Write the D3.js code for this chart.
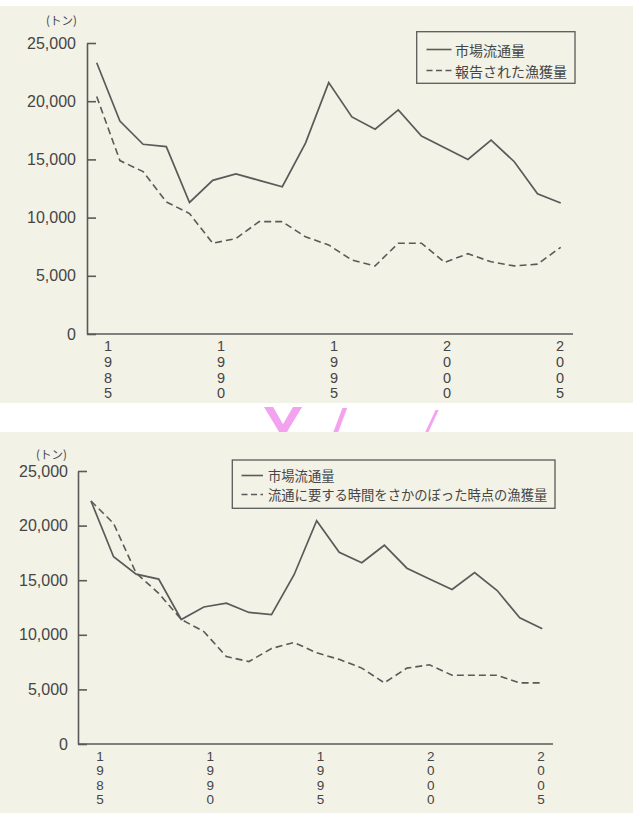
<!DOCTYPE html>
<html>
<head>
<meta charset="utf-8">
<script src="https://cdn.jsdelivr.net/npm/d3@7/dist/d3.min.js"></script>
<style>
  html, body { margin: 0; padding: 0; background: #ffffff; }
  svg { display: block; }
</style>
</head>
<body>
<svg id="chart" width="633" height="813"></svg>
<script>
// ---------- DATA ----------
const years = [1985,1986,1987,1988,1989,1990,1991,1992,1993,1994,1995,1996,1997,1998,1999,2000,2001,2002,2003,2004,2005];
const yearLabels = [1985, 1990, 1995, 2000, 2005];
const yTicks = [0, 5000, 10000, 15000, 20000, 25000];

// Chart 1
const market1   = [23300,18300,16300,16100,11300,13200,13750,13200,12650,16400,21600,18650,17600,19250,17000,16000,15000,16650,14800,12050,11250];
const reported1 = [20400,14900,13950,11350,10350,7800,8200,9650,9650,8350,7650,6350,5850,7800,7800,6150,6900,6200,5850,6000,7450];
const legend1 = ["市場流通量", "報告された漁獲量"];

// Chart 2
const market2    = [22250,17150,15550,15100,11400,12550,12900,12050,11850,15500,20450,17550,16600,18200,16100,15100,14150,15700,14050,11550,10550];
const backdated2 = [22250,20200,15650,13800,11400,10300,8000,7550,8750,9300,8350,7750,6950,5600,6950,7250,6300,6300,6300,5600,5600];
const legend2 = ["市場流通量", "流通に要する時間をさかのぼった時点の漁獲量"];

const unitLabel = "(トン)";

// ---------- STYLE ----------
const paper = "#f3f2e6";
const ink = "#5a5a5a";
const textInk = "#454545";
const numFont = "'Liberation Sans', Arial, sans-serif";
const jpFont = "'Noto Sans CJK JP', 'Noto Sans CJK SC', sans-serif";

const svg = d3.select("#chart");

// paper backgrounds
svg.append("rect").attr("x", 0).attr("y", 6).attr("width", 633).attr("height", 397).attr("fill", paper);
svg.append("rect").attr("x", 0).attr("y", 432).attr("width", 633).attr("height", 381).attr("fill", paper);

// pink marks in the white gap
const clip = svg.append("defs").append("clipPath").attr("id", "gap");
clip.append("rect").attr("x", 0).attr("y", 405).attr("width", 633).attr("height", 27);
const pink = svg.append("g").attr("clip-path", "url(#gap)").attr("fill", "#f3a2ef")
  .style("font-family", numFont);
pink.append("text").attr("x", 283).attr("y", 448).attr("text-anchor", "middle").attr("font-size", 60)
  .attr("font-weight", "bold").text("Y");
pink.append("text").attr("x", 338).attr("y", 438).attr("text-anchor", "middle").attr("font-size", 40)
  .attr("font-weight", "bold").attr("font-style", "italic").text("/");
pink.append("text").attr("x", 430).attr("y", 438).attr("text-anchor", "middle").attr("font-size", 38)
  .attr("font-style", "italic").text("/");

function drawChart(cfg) {
  const g = svg.append("g");
  const x = d3.scaleLinear().domain([1985, 2005]).range(cfg.xRange);
  const xl = d3.scaleLinear().domain([1985, 2005]).range(cfg.labelRange);
  const y = d3.scaleLinear().domain([0, 25000]).range(cfg.yRange);

  // y axis
  const yAxis = d3.axisLeft(y).tickValues(yTicks).tickSizeInner(-9).tickSizeOuter(0)
    .tickPadding(cfg.tickPad).tickFormat(d3.format(","));
  const ya = g.append("g").attr("transform", `translate(${cfg.axisX},0)`).call(yAxis);
  ya.selectAll("path, line").attr("stroke", ink).attr("stroke-width", 1.6);
  ya.selectAll("text").attr("fill", textInk).style("font-family", numFont).style("font-size", "16px");

  // x axis line
  g.append("line").attr("x1", cfg.axisX).attr("x2", cfg.axisEnd)
    .attr("y1", y(0)).attr("y2", y(0)).attr("stroke", ink).attr("stroke-width", 1.6);

  // x labels (vertical digits, one text per digit)
  yearLabels.forEach(yr => {
    String(yr).split("").forEach((ch, i) => {
      g.append("text").attr("fill", textInk).attr("text-anchor", "middle")
        .style("font-family", numFont).style("font-size", cfg.xFont + "px")
        .attr("x", xl(yr)).attr("y", y(0) + cfg.xLabelTop + i * cfg.xLabelStep).text(ch);
    });
  });

  // unit label
  g.append("text").attr("x", cfg.unitX).attr("y", cfg.unitY).attr("fill", textInk)
    .style("font-family", jpFont).style("font-size", "11.5px").attr("dominant-baseline", "central")
    .text(unitLabel);

  const line = d3.line().x((d, i) => x(years[i])).y(d => y(d));

  g.append("path").datum(cfg.dashed).attr("d", line).attr("fill", "none")
    .attr("stroke", ink).attr("stroke-width", 1.6).attr("stroke-dasharray", "7,4");
  g.append("path").datum(cfg.solid).attr("d", line).attr("fill", "none")
    .attr("stroke", ink).attr("stroke-width", 1.7).attr("stroke-linejoin", "miter");

  // legend
  const L = cfg.legend;
  g.append("rect").attr("x", L.x0).attr("y", L.y0).attr("width", L.x1 - L.x0).attr("height", L.y1 - L.y0)
    .attr("fill", "none").attr("stroke", ink).attr("stroke-width", 1.3);
  cfg.legendText.forEach((txt, i) => {
    const cy = L.rows[i];
    g.append("line").attr("x1", L.lx0).attr("x2", L.lx1).attr("y1", cy).attr("y2", cy)
      .attr("stroke", ink).attr("stroke-width", 1.6)
      .attr("stroke-dasharray", i === 0 ? null : "6,3.5");
    g.append("text").attr("x", L.tx).attr("y", cy).attr("dominant-baseline", "central")
      .attr("fill", textInk).style("font-family", jpFont).style("font-size", L.font + "px").text(txt);
  });
}

drawChart({
  xRange: [96.7, 560.7], labelRange: [108, 560], yRange: [334, 43],
  axisX: 87, axisEnd: 573, tickPad: 11,
  xFont: 14.5, xLabelTop: 17, xLabelStep: 15.8,
  unitX: 46, unitY: 20,
  solid: market1, dashed: reported1, legendText: legend1,
  legend: { x0: 416.7, x1: 575, y0: 31.7, y1: 83.3, rows: [49.5, 70.5], lx0: 426.5, lx1: 451.5, tx: 455, font: 14 }
});

drawChart({
  xRange: [91, 542.3], labelRange: [100, 541], yRange: [744, 471],
  axisX: 78, axisEnd: 553, tickPad: 10,
  xFont: 13.5, xLabelTop: 16.5, xLabelStep: 14.6,
  unitX: 36, unitY: 454,
  solid: market2, dashed: backdated2, legendText: legend2,
  legend: { x0: 232.3, x1: 555, y0: 460, y1: 508.3, rows: [475.5, 494.5], lx0: 241.5, lx1: 263, tx: 268, font: 13.3 }
});
</script>
</body>
</html>
